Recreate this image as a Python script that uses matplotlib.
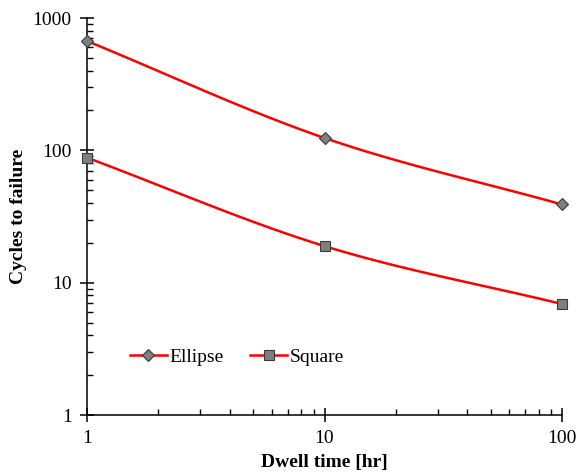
import numpy as np
import matplotlib
matplotlib.use("Agg")
import matplotlib.pyplot as plt
from matplotlib.ticker import FixedLocator, FixedFormatter, LogLocator, NullFormatter

dwell = [1, 10, 100]
ellipse = [670, 124, 39]
square = [88, 18.9, 6.9]
xticks = [1, 10, 100]
xticklabels = ["1", "10", "100"]
yticks = [1, 10, 100, 1000]
yticklabels = ["1", "10", "100", "1000"]

plt.rcParams['font.family'] = ['Liberation Serif', 'DejaVu Serif']


def smooth(xs, ys, n=60):
    # Catmull-Rom through points in log-log space (rendering of a smoothed line)
    lx = np.log10(xs); ly = np.log10(ys)
    P = np.column_stack([lx, ly])
    P = np.vstack([P[0] + (P[0] - P[1]), P, P[-1] + (P[-1] - P[-2])])
    out = []
    for i in range(1, len(P) - 2):
        p0, p1, p2, p3 = P[i - 1], P[i], P[i + 1], P[i + 2]
        t = np.linspace(0, 1, n)[:, None]
        c = 0.5 * ((2 * p1) + (-p0 + p2) * t + (2 * p0 - 5 * p1 + 4 * p2 - p3) * t ** 2
                   + (-p0 + 3 * p1 - 3 * p2 + p3) * t ** 3)
        out.append(c)
    c = np.vstack(out)
    return 10 ** c[:, 0], 10 ** c[:, 1]


fig = plt.figure(figsize=(5.77, 4.75), dpi=100)
ax = fig.add_axes([87 / 577, 1 - 415 / 475, (562 - 87) / 577, (415 - 18) / 475])

red = "#ff0000"
for ys, mk, ms, lab in [(ellipse, "D", 6.5, "Ellipse"), (square, "s", 7.5, "Square")]:
    sx, sy = smooth(dwell, ys)
    ax.plot(sx, sy, color=red, lw=1.8, zorder=2)
    ax.plot(dwell, ys, linestyle="none", marker=mk, ms=ms, mfc="#7f7f7f", mec="#3a3a3a",
            mew=0.8, zorder=3, clip_on=False)
    ax.plot([], [], color=red, lw=1.8, marker=mk, ms=ms, mfc="#7f7f7f", mec="#3a3a3a",
            mew=0.8, label=lab)

ax.set_xscale("log")
ax.set_yscale("log")
ax.set_xlim(1, 100)
ax.set_ylim(1, 1000)

ax.xaxis.set_major_locator(FixedLocator(xticks))
ax.xaxis.set_major_formatter(FixedFormatter(xticklabels))
ax.yaxis.set_major_locator(FixedLocator(yticks))
ax.yaxis.set_major_formatter(FixedFormatter(yticklabels))
ax.xaxis.set_minor_locator(LogLocator(base=10, subs=np.arange(2, 10)))
ax.yaxis.set_minor_locator(LogLocator(base=10, subs=np.arange(2, 10)))
ax.xaxis.set_minor_formatter(NullFormatter())
ax.yaxis.set_minor_formatter(NullFormatter())

for s in ["top", "right"]:
    ax.spines[s].set_visible(False)
for s in ["left", "bottom"]:
    ax.spines[s].set_linewidth(1.1)

ax.tick_params(which="major", direction="inout", length=10, width=1.1, labelsize=14, pad=6)
ax.tick_params(which="minor", direction="in", length=4, width=1.0)
ax.tick_params(axis="x", which="major", pad=6)

ax.set_xlabel("Dwell time [hr]", fontsize=14, fontweight="bold", labelpad=5)
ax.set_ylabel("Cycles to failure", fontsize=14, fontweight="bold", labelpad=4)

ax.legend(loc="center left", bbox_to_anchor=(0.09, 0.146), ncol=2, frameon=False, fontsize=14,
          handlelength=1.9, columnspacing=1.35, handletextpad=0.15, borderpad=0,
          borderaxespad=0)

fig.savefig("out.png", dpi=100)
